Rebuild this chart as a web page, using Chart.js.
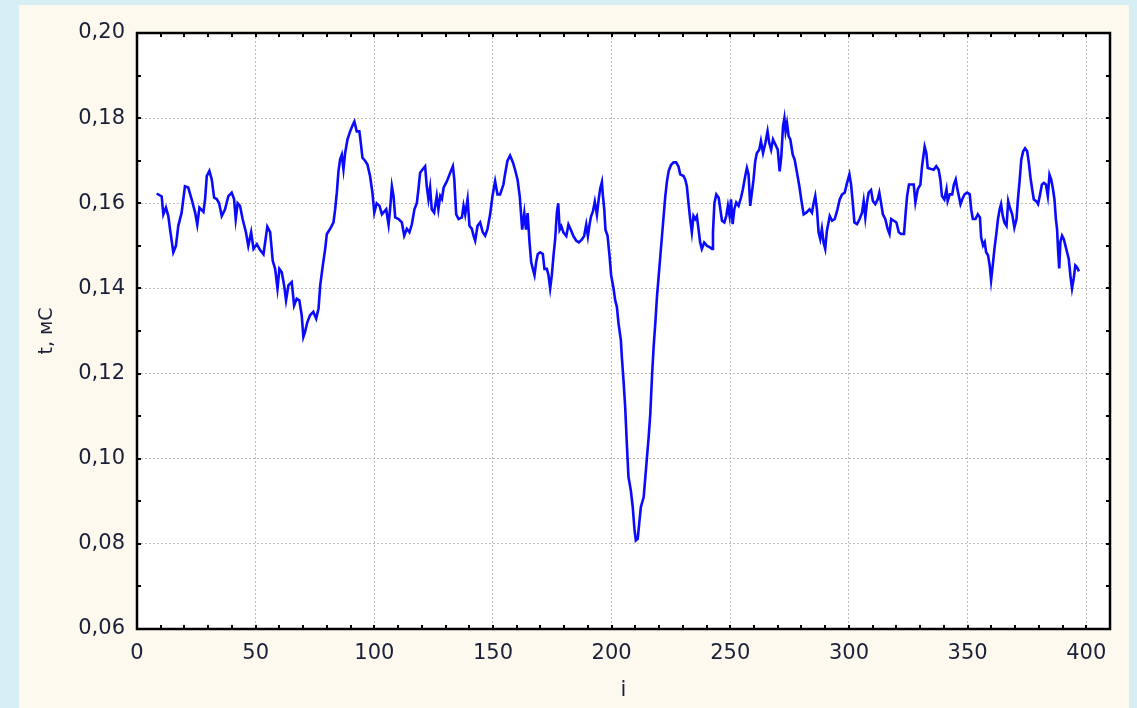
<!DOCTYPE html>
<html>
<head>
<meta charset="utf-8">
<script src="https://cdn.jsdelivr.net/npm/chart.js@4.4.1/dist/chart.umd.min.js"></script>
<style>
  html, body { margin: 0; padding: 0; }
  body { width: 1137px; height: 708px; background: #d6eef4; position: relative; overflow: hidden; }
  #panel { position: absolute; left: 19px; top: 5px; width: 1110px; height: 703px; background: #fef9ee; }
  #chart { position: absolute; left: 0; top: 0; }
</style>
</head>
<body>
<div id="panel"></div>
<canvas id="chart" width="1137" height="708"></canvas>
<script>
// i (sample index) and t, ms
const iValues = [
  8.3, 10.4, 11.1, 12.2, 13.2, 13.9, 15.3, 16.4, 17.4, 18.8, 20.2, 21.6, 23.0, 24.5, 25.4, 26.3, 28.0, 28.7, 29.4, 30.5,
  31.5, 32.5, 33.6, 34.6, 35.7, 37.1, 38.5, 39.9, 40.9, 41.6, 42.4, 43.4, 44.5, 45.9, 46.9, 48.1, 49.1, 50.5,
  51.9, 53.3, 54.9, 56.1, 57.2, 58.2, 59.2, 60.0, 61.0, 62.0, 62.8, 63.8, 65.2, 66.2, 67.3, 68.4, 69.4, 70.1, 70.8, 71.8,
  72.9, 74.3, 75.5, 76.5, 77.2, 78.3, 79.3, 80.0, 81.4, 82.8, 83.5, 84.2, 84.9, 85.6, 86.3, 87.0, 87.7, 88.7, 89.8, 90.9,
  91.6, 92.6, 93.7, 94.3, 95.0, 96.1, 97.1, 98.2, 99.2, 100.0, 101.0, 102.2, 103.2,
  105.0, 106.0, 106.7, 107.4, 108.1, 108.8, 110.2, 111.6, 112.6, 113.7, 114.8, 115.8, 116.9, 117.9, 118.6, 119.3, 120.4,
  121.4, 122.1, 122.8, 123.5, 124.2, 125.2, 126.3, 127.0, 127.8, 128.5, 129.2, 130.6, 132.0, 133.1, 133.7, 134.5, 135.5,
  136.9, 137.6, 138.3, 139.3, 140.1, 141.1, 141.8, 142.5, 143.5, 144.6, 145.7, 146.7, 147.7, 148.8, 149.8, 150.9, 151.9,
  153.0, 154.4,
  155.1, 156.1, 157.2, 158.4, 159.4, 160.4, 161.3, 161.8, 162.3, 163.2, 163.9, 164.6, 165.4, 166.1, 166.8, 167.5, 168.2,
  168.9, 169.9, 171.0, 171.7, 172.7, 173.4, 174.1, 174.8, 175.5, 176.2, 176.9, 177.5, 178.1, 178.8, 179.7, 180.9, 181.8,
  182.8, 183.9, 185.1, 186.2, 187.5, 188.4, 189.3, 190.0, 190.7, 191.3, 192.1, 192.9, 193.8, 194.6, 195.2, 195.9, 196.3,
  196.9, 197.4, 198.3, 199.1, 199.8, 200.8,
  201.5, 202.2, 202.9, 203.9, 204.3, 205.0, 205.7, 206.4, 207.1, 208.1, 208.9, 209.6, 210.2, 211.0, 211.6, 212.3, 213.5,
  214.2, 214.9, 215.6, 216.3, 217.0, 217.7, 218.4, 219.1, 219.8, 220.5, 221.2, 221.9, 222.6, 223.3, 224.0, 225.0, 226.1,
  227.2, 228.2,
  228.9, 230.3, 231.0, 231.7, 232.4, 233.1, 233.8, 234.5, 235.2, 235.9, 236.6, 237.3, 238.0, 239.0, 240.2, 241.3, 242.3,
  242.7, 243.3, 244.1, 245.1, 245.8, 246.5, 247.5, 248.3, 249.0, 249.7, 250.3, 251.0, 251.7, 252.5, 253.5, 254.5, 255.3,
  256.3, 257.0, 257.7, 258.4, 259.1, 259.8, 260.5, 261.2, 262.2, 262.9, 263.8, 264.8, 265.7, 266.4, 267.2, 268.0, 269.0,
  270.0, 270.8, 271.5, 272.2, 272.8, 273.3, 273.9, 274.6, 275.3, 276.3, 277.1, 278.1, 279.1, 279.9, 280.9,
  282.0, 283.4, 284.4, 285.1, 285.8, 286.5, 287.2, 287.9, 288.6, 289.3, 290.0, 290.7, 291.9, 292.9, 294.0, 295.0, 296.1,
  297.1, 298.2, 299.2, 300.2, 300.9, 301.6, 302.3, 303.4, 304.5, 305.5, 306.2, 306.9, 307.6, 308.3, 309.3, 310.1, 311.1,
  312.1, 312.8, 313.5, 314.3, 315.3, 316.3, 317.1, 317.8, 318.9, 320.0, 321.0, 322.0, 323.2, 323.9, 324.5, 325.3, 326.3,
  327.3, 328.0, 329.0, 330.1, 330.8,
  331.9, 332.6, 333.2, 334.3, 335.7, 336.8, 337.8, 338.5, 339.2, 340.2, 341.1, 341.6, 342.5, 343.5, 344.2, 345.0, 345.6,
  346.3, 347.0, 347.7, 348.7, 349.8, 350.9, 351.5, 352.2, 353.3, 354.3, 355.2, 355.7, 356.5, 357.2, 357.8, 358.6, 359.3,
  359.9, 360.6, 361.3, 362.1, 362.8, 363.5, 364.1, 364.8, 365.5, 366.4, 367.1, 367.8, 368.8, 369.7, 370.6, 371.2, 371.9,
  372.6, 373.4, 374.2, 375.1, 375.8, 376.5, 377.2, 377.9, 378.9, 379.7, 380.4, 381.3, 382.1, 383.0, 383.8, 384.5, 385.2,
  385.9, 386.6, 387.2, 387.7, 388.1, 388.6, 389.1, 389.8, 390.5, 391.2, 391.9, 392.6, 393.3, 394.0, 394.7, 395.4, 396.1,
  396.9
];
const tValues = [
  .1623, .1616, .1574, .159, .157, .154, .1485, .150, .1547, .1578, .164, .1637, .161, .1578, .155, .159, .158, .161, .1664, .1676,
  .1656, .1613, .161, .160, .157, .1586, .1617, .1625, .161, .1563, .160, .1594, .1563, .1532, .150, .1532, .1493, .1504,
  .149, .148, .1545, .1532, .1465, .1446, .140, .1446, .1438, .1407, .1372, .1407, .1415, .136, .1376, .1372, .1337, .1286, .1298, .1321,
  .1337, .1345, .1329, .1353, .1407, .1454, .1493, .1528, .154, .1555, .1586, .1625, .1676, .1703, .1714, .168, .1718, .175, .1769, .1784,
  .1792, .1769, .1769, .1742, .1707, .170, .1691, .1664, .1625, .1578, .160, .1594, .1574,
  .1586, .155, .159, .164, .1617, .1567, .1563, .1555, .1524, .154, .1532, .155, .1586, .160, .1633, .1672, .168,
  .1687, .164, .161, .1637, .1586, .1578, .1617, .1586, .1617, .161, .1637, .1652, .1672, .1687, .1656, .1574, .1563,
  .1567, .1594, .1574, .161, .1547, .154, .1524, .1512, .1547, .1555, .1532, .1524, .154, .1574, .1617, .1652, .1621,
  .1621, .1644,
  .1669, .170, .1712, .1696, .1677, .1654, .1615, .1577, .1538, .1577, .1538, .1577, .1508, .1462, .1446, .1431, .1462,
  .1481, .1485, .1481, .1446, .1446, .1431, .140, .1431, .1477, .1515, .1577, .160, .1538, .1546, .1531, .1523, .155,
  .1538, .1523, .1512, .1508, .1515, .1523, .155, .1523, .155, .1569, .1581, .1604, .1573, .1612, .1635, .165, .1619,
  .1585, .1538, .1523, .1477, .1431, .140,
  .1372, .1357, .1318, .1278, .1239, .1184, .1122, .1035, .0957, .0925, .0886, .0835, .0808, .0812, .0847, .0886, .0910,
  .0957, .1004, .1051, .1106, .1192, .1263, .1318, .138, .1427, .1475, .1522, .1569, .1616, .1651, .1675, .169, .1696,
  .1696, .1686,
  .1668, .1664, .1656, .164, .160, .1563, .1532, .157, .1563, .157, .154, .1508, .1493, .1508, .150, .1497, .1493,
  .1532, .160, .1621, .1613, .1586, .1559, .1555, .157, .1594, .157, .1609, .1551, .1586, .1602, .1594, .1613, .1633,
  .1664, .1683, .1668, .1594, .1625, .1656, .1699, .1718, .1726, .1746, .1718, .1742, .1769, .1742, .1726, .175, .1738,
  .1726, .1675, .171, .178, .180, .1769, .1788, .1757, .175, .1714, .1703, .1672, .164, .1609, .1574,
  .1578, .1586, .1578, .160, .1617, .1586, .1532, .1516, .154, .1508, .1493, .1535, .157, .1559, .1563, .1582, .1609,
  .1621, .1625, .1648, .1668, .1644, .1602, .1555, .1551, .1563, .1578, .1605, .1567, .1602, .1625, .1631, .1605, .1598,
  .1609, .1625, .1602, .1574, .1563, .154, .1528, .1563, .1559, .1555, .1532, .1528, .1528, .1578, .1617, .1644, .1644,
  .1644, .1602, .1633, .1644, .1687,
  .1733, .1718, .1683, .1681, .1679, .1687, .1679, .1656, .1617, .1609, .1633, .1605, .1621, .1621, .1644, .1656, .1636,
  .1617, .1598, .1609, .1621, .1625, .1621, .1586, .1563, .1563, .1574, .1567, .152, .1501, .1509, .1485, .1478, .1454,
  .1419, .1454, .1493, .1528, .1563, .1586, .1598, .1571, .1555, .1547, .1605, .159, .1574, .1543, .1563, .1609, .1652,
  .1702, .1722, .1729, .1722, .1695, .166, .1633, .1609, .1605, .1598, .1617, .1644, .1648, .1644, .1617, .1667, .1656,
  .1636, .1609, .1563, .1539, .1493, .1447, .1509, .1524, .1516, .1501, .1485, .147, .1431, .140, .1423, .1454, .145,
  .144
];

const xTicks = [0, 50, 100, 150, 200, 250, 300, 350, 400];
const yTicks = [0.06, 0.08, 0.10, 0.12, 0.14, 0.16, 0.18, 0.20];
const xMinorTicks = [10, 20, 30, 40, 50, 60, 70, 80, 90, 100, 110, 120, 130, 140, 150, 160, 170, 180, 190, 200,
  210, 220, 230, 240, 250, 260, 270, 280, 290, 300, 310, 320, 330, 340, 350, 360, 370, 380, 390, 400];
const yMinorTicks = [0.07, 0.08, 0.09, 0.10, 0.11, 0.12, 0.13, 0.14, 0.15, 0.16, 0.17, 0.18, 0.19];

const textColor = "#1a2038";
const fontFamily = "'DejaVu Sans', sans-serif";

// white plot area, black frame and small inward ticks on all four sides
const framePlugin = {
  id: "frame",
  beforeDraw(chart) {
    const { ctx, chartArea: a } = chart;
    ctx.save();
    ctx.fillStyle = "#ffffff";
    ctx.fillRect(a.left, a.top, a.right - a.left, a.bottom - a.top);
    ctx.restore();
  },
  afterDraw(chart) {
    const { ctx, chartArea: a } = chart;
    const xs = chart.scales.x, ys = chart.scales.y;
    ctx.save();
    ctx.strokeStyle = "#000000";
    ctx.lineWidth = 2;
    ctx.beginPath();
    xMinorTicks.forEach((v) => {
      const px = Math.round(xs.getPixelForValue(v));
      ctx.moveTo(px, a.bottom); ctx.lineTo(px, a.bottom - 4);
      ctx.moveTo(px, a.top); ctx.lineTo(px, a.top + 4);
    });
    yMinorTicks.forEach((v) => {
      const py = Math.round(ys.getPixelForValue(v));
      ctx.moveTo(a.left, py); ctx.lineTo(a.left + 4, py);
      ctx.moveTo(a.right, py); ctx.lineTo(a.right - 4, py);
    });
    ctx.stroke();
    ctx.lineWidth = 2.5;
    ctx.strokeRect(a.left, a.top, a.right - a.left, a.bottom - a.top);
    ctx.restore();
  }
};

new Chart(document.getElementById("chart"), {
  type: "line",
  data: {
    datasets: [{
      data: iValues.map((x, k) => ({ x, y: tValues[k] })),
      borderColor: "#0a0aff",
      borderWidth: 2.6,
      borderJoinStyle: "miter",
      pointRadius: 0,
      tension: 0,
      fill: false
    }]
  },
  options: {
    responsive: false,
    devicePixelRatio: 1,
    animation: false,
    layout: { padding: { left: 0, top: 33, right: 27, bottom: 0 } },
    plugins: { legend: { display: false }, tooltip: { enabled: false } },
    scales: {
      x: {
        type: "linear",
        min: 0,
        max: 410,
        afterBuildTicks: (s) => { s.ticks = xTicks.map((v) => ({ value: v })); },
        afterFit: (s) => { s.height = 79; },
        grid: { color: "#bdbdbd", lineWidth: 1, drawTicks: false },
        border: { display: false, dash: [2, 2] },
        ticks: {
          padding: 12,
          maxRotation: 0,
          color: textColor,
          font: { family: fontFamily, size: 21 },
          callback: (v) => String(v)
        },
        title: {
          display: true,
          text: "i",
          color: textColor,
          font: { family: fontFamily, size: 21 },
          padding: { top: 0, bottom: 5 }
        }
      },
      y: {
        min: 0.06,
        max: 0.20,
        afterBuildTicks: (s) => { s.ticks = yTicks.map((v) => ({ value: v })); },
        afterFit: (s) => { s.width = 137; },
        grid: { color: "#bdbdbd", lineWidth: 1, drawTicks: false },
        border: { display: false, dash: [2, 2] },
        ticks: {
          padding: 12,
          color: textColor,
          font: { family: fontFamily, size: 21 },
          callback: (v) => v.toFixed(2).replace(".", ",")
        },
        title: {
          display: true,
          text: "t, мС",
          color: textColor,
          font: { family: fontFamily, size: 19 },
          padding: { top: 36, bottom: 0 }
        }
      }
    }
  },
  plugins: [framePlugin]
});
</script>
</body>
</html>
